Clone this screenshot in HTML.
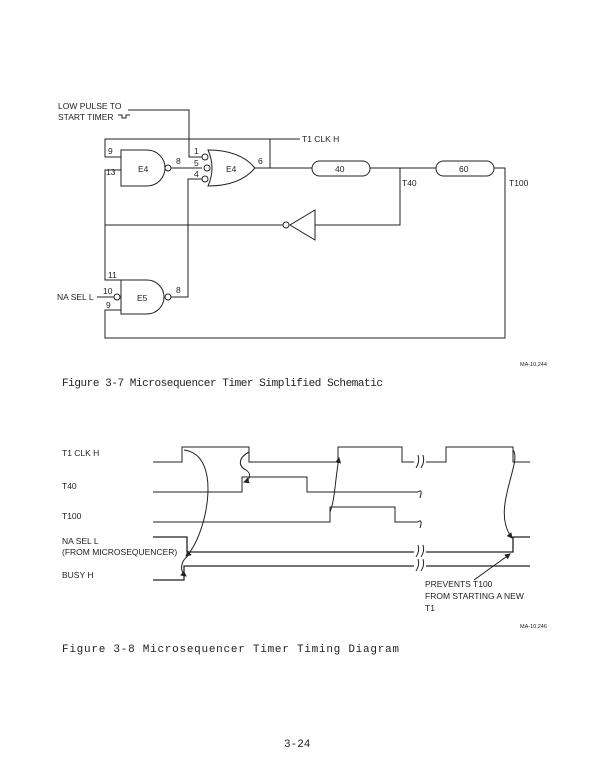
<!DOCTYPE html>
<html><head><meta charset="utf-8"><style>
html,body{margin:0;padding:0;background:#fff;}
svg{display:block;}
text{font-family:"Liberation Sans",sans-serif;font-size:8.5px;fill:#222;}
.m{font-family:"Liberation Mono",monospace;font-size:11px;}
.s{font-size:5.5px;}
</style></head><body>
<svg width="604" height="783" viewBox="0 0 604 783" fill="none" stroke="#222" stroke-width="1">
<defs><marker id="a" markerWidth="6" markerHeight="6" refX="5" refY="3" orient="auto"><path d="M0 0L6 3L0 6Z" fill="#222" stroke="none"/></marker></defs>
<text x="58" y="109" stroke="none">LOW PULSE TO</text>
<text x="58" y="120" stroke="none">START TIMER</text>
<path d="M118 115h4v3h4v-3h4"/>
<path d="M128 110H189V157H202"/>
<path d="M300 139H105V157H121"/>
<path d="M270 139V168"/>
<text x="302" y="142" stroke="none">T1 CLK H</text>
<text x="108" y="154" stroke="none">9</text>
<text x="106" y="175" stroke="none">13</text>
<path d="M121 150H147A18 18 0 0 1 147 186H121Z"/>
<circle cx="168" cy="168" r="3"/>
<text x="138" y="172" stroke="none">E4</text>
<text x="176" y="164" stroke="none">8</text>
<path d="M171 168H202"/>
<path d="M208 150Q240 150 255 168Q240 186 208 186Q216 168 208 150Z"/>
<circle cx="205" cy="157" r="3"/><circle cx="207" cy="168" r="3"/><circle cx="205" cy="179" r="3"/>
<text x="194" y="154" stroke="none">1</text>
<text x="194" y="166" stroke="none">5</text>
<text x="194" y="177" stroke="none">4</text>
<text x="226" y="172" stroke="none">E4</text>
<text x="258" y="164" stroke="none">6</text>
<path d="M255 168H312"/>
<rect x="312" y="161" width="58" height="15" rx="7.5"/>
<text x="335" y="172" stroke="none">40</text>
<path d="M370 168H436"/>
<rect x="436" y="161" width="58" height="15" rx="7.5"/>
<text x="459" y="172" stroke="none">60</text>
<path d="M494 168H505V338H105V310H121"/>
<path d="M400 168V225H315"/>
<text x="402" y="186" stroke="none">T40</text>
<text x="509" y="186" stroke="none">T100</text>
<path d="M315 210V240L290 225Z"/>
<circle cx="286" cy="225" r="3"/>
<path d="M283 225H105"/>
<path d="M121 170H105V280H121"/>
<path d="M202 179H188V297H171"/>
<path d="M121 280H147A17 17 0 0 1 147 314H121Z"/>
<circle cx="168" cy="297" r="3"/>
<circle cx="117" cy="297" r="3"/>
<path d="M97 297H114"/>
<text x="57" y="300" stroke="none">NA SEL L</text>
<text x="108" y="278" stroke="none">11</text>
<text x="103" y="294" stroke="none">10</text>
<text x="106" y="308" stroke="none">9</text>
<text x="137" y="301" stroke="none">E5</text>
<text x="176" y="293" stroke="none">8</text>
<text x="520" y="366" class="s" stroke="none">MA-10,244</text>
<text x="62" y="386" class="m" stroke="none" textLength="321" lengthAdjust="spacing">Figure 3-7  Microsequencer Timer Simplified Schematic</text>
<text x="62" y="456" stroke="none">T1 CLK H</text>
<text x="62" y="489" stroke="none">T40</text>
<text x="62" y="519" stroke="none">T100</text>
<text x="62" y="544" stroke="none">NA SEL L</text>
<text x="62" y="555" stroke="none">(FROM MICROSEQUENCER)</text>
<text x="62" y="578" stroke="none">BUSY H</text>
<path d="M153 462H182V447H249V462H338V447H402V462H446V447H513V462H530"/>
<path d="M153 492H242V477H307V492H418"/>
<path d="M153 522H330V507H395V522H418"/>
<path d="M153 537H187V552H513V537H530" stroke-width="1.3"/>
<path d="M153 580H184V566H530" stroke-width="1.3"/>
<rect x="414" y="452" width="12" height="14" fill="#fff" stroke="none"/>
<rect x="414" y="546" width="12" height="10" fill="#fff" stroke="none"/>
<rect x="414" y="560" width="12" height="10" fill="#fff" stroke="none"/>
<path d="M416 468Q420 462 418 455M421 468Q425 462 423 455"/>
<path d="M416 557Q420 551 418 545M421 557Q425 551 423 545"/>
<path d="M416 571Q420 565 418 559M421 571Q425 565 423 559"/>
<path d="M418 492Q423 488 420 498M418 522Q423 518 420 528"/>
<path d="M184 450C225 455 205 540 186 556" marker-end="url(#a)"/>
<path d="M188 556C182 560 178 570 186 576" marker-end="url(#a)"/>
<path d="M249 452C238 458 238 466 246 470C252 474 250 480 244 482" marker-end="url(#a)"/>
<path d="M330 512C335 500 335 480 339 458" marker-end="url(#a)"/>
<path d="M513 450C523 462 490 510 512 538" marker-end="url(#a)"/>
<path d="M474 580L510 554" marker-end="url(#a)"/>
<text x="425" y="587" stroke="none">PREVENTS T100</text>
<text x="425" y="599" stroke="none">FROM STARTING A NEW</text>
<text x="425" y="611" stroke="none">T1</text>
<text x="520" y="628" class="s" stroke="none">MA-10,246</text>
<text x="62" y="652" class="m" stroke="none" textLength="337" lengthAdjust="spacing">Figure 3-8  Microsequencer Timer Timing Diagram</text>
<text x="284" y="747" class="m" stroke="none">3-24</text>
</svg>
</body></html>
